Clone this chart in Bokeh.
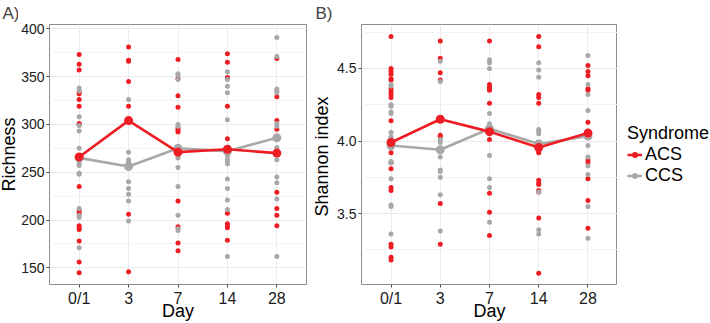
import math
from bokeh.plotting import figure
from bokeh.layouts import row
from bokeh.models import (ColumnDataSource, FactorRange, Range1d, SingleIntervalTicker,
                          PrintfTickFormatter, BasicTickFormatter, Legend, LegendItem)
from bokeh.core.properties import value
from bokeh.embed import file_html
from bokeh.resources import INLINE

days = ["0/1", "3", "7", "14", "28"]

# Per-sample richness, one list per day (ACS / CCS)
rich_acs = [
    [373, 363, 357, 334, 332, 326, 319, 301, 300, 235, 210, 207, 194, 192, 190, 178, 156, 145],
    [381, 367, 366, 345, 319, 206, 146],
    [368, 348, 330, 318, 296, 294, 292, 220, 193, 176, 168],
    [374, 365, 349, 319, 285, 207, 196, 194, 192, 179],
    [369, 329, 304, 295, 229, 212, 205, 194],
]
rich_ccs = [
    [338, 335, 308, 299, 293, 275, 261, 259, 257, 249, 248, 212, 205, 203, 171],
    [326, 271, 263, 261, 259, 240, 233, 227, 220, 199],
    [353, 352, 347, 300, 298, 277, 269, 267, 265, 255, 235, 205, 191, 189],
    [355, 347, 340, 333, 305, 267, 263, 261, 259, 243, 233, 221, 211, 162],
    [391, 371, 337, 335, 333, 301, 298, 276, 273, 263, 245, 239, 222, 162],
]
rich_acs_mean = [266, 304, 271, 274, 270]
rich_ccs_mean = [265, 256, 275, 272, 286]

# Per-sample Shannon index, one list per day (ACS / CCS)
shan_acs = [
    [4.72, 4.50, 4.48, 4.46, 4.43, 4.42, 4.36, 4.34, 4.32, 4.30, 4.14, 3.92, 3.85, 3.81,
     3.68, 3.66, 3.29, 3.27, 3.20, 3.18],
    [4.69, 4.57, 4.47, 4.42, 4.04, 4.03, 3.57, 3.29],
    [4.69, 4.39, 4.37, 4.36, 4.35, 4.26, 4.01, 3.64, 3.51, 3.35],
    [4.72, 4.65, 4.32, 4.30, 4.26, 3.93, 3.92, 3.73, 3.71, 3.70, 3.66, 3.65, 3.47, 3.09],
    [4.52, 4.48, 4.45, 4.36, 4.35, 4.13, 3.87, 3.85, 3.74, 3.59, 3.40],
]
shan_ccs = [
    [4.39, 4.38, 4.25, 4.24, 4.20, 4.19, 4.06, 4.03, 4.02, 3.96, 3.95, 3.86, 3.85, 3.74,
     3.56, 3.55, 3.36],
    [4.55, 4.41, 4.16, 4.01, 3.99, 3.89, 3.80, 3.79, 3.75, 3.63, 3.38],
    [4.56, 4.54, 4.50, 4.19, 4.12, 4.05, 3.90, 3.74, 3.68, 3.44],
    [4.54, 4.49, 4.44, 4.08, 4.07, 4.05, 3.65, 3.39, 3.36],
    [4.59, 4.39, 4.32, 4.21, 3.97, 3.89, 3.83, 3.77, 3.55, 3.33],
]
shan_acs_mean = [3.99, 4.15, 4.065, 3.955, 4.055]
shan_ccs_mean = [3.97, 3.94, 4.085, 3.98, 4.035]

groups = ["ACS", "CCS"]
colors = {"ACS": "#ee1d24", "CCS": "#a8a8a8"}
FONT = "Liberation Sans"
H = 323
TOP, BOTTOM = 24, 39          # plot-area margins shared by every strip in the row


def long_form(per_day):
    xs, ys = [], []
    for d, vals in zip(days, per_day):
        xs += [d] * len(vals)
        ys += vals
    return ColumnDataSource(dict(day=xs, val=ys))


def blank(width):
    """A bare strip whose data space is pixels measured from the canvas bottom-left."""
    s = figure(width=width, height=H, x_range=Range1d(0, width),
               y_range=Range1d(BOTTOM, H - TOP),
               output_backend="svg", toolbar_location=None,
               min_border_left=0, min_border_right=0,
               min_border_top=TOP, min_border_bottom=BOTTOM)
    s.axis.visible = False
    s.grid.visible = False
    s.outline_line_color = None
    s.background_fill_color = "white"
    s.border_fill_color = "white"
    return s


def side_strip(width, tag, tag_x, ylabel, ylabel_x, ylabel_mid):
    s = blank(width)
    s.title.text = tag
    s.title.text_font = FONT
    s.title.text_font_size = "17px"
    s.title.text_font_style = "normal"
    s.title.align = "left"
    s.title.offset = tag_x
    s.title.standoff = 0
    s.title.vertical_align = "top"
    s.text(x=[ylabel_x], y=[H - ylabel_mid], text=[ylabel], angle=math.pi / 2,
           text_font=value(FONT), text_font_size="18px", text_align="center",
           text_baseline="middle", text_color="black")
    return s


def panel(width, border_left, border_right, y_lo, y_hi, interval, fmt,
          acs, ccs, acs_mean, ccs_mean):
    p = figure(width=width, height=H,
               x_range=FactorRange(factors=days, range_padding=0.1,
                                   range_padding_units="absolute"),
               y_range=Range1d(y_lo, y_hi),
               output_backend="svg", toolbar_location=None,
               min_border_left=border_left, min_border_right=border_right,
               min_border_top=TOP, min_border_bottom=BOTTOM)
    p.background_fill_color = "white"
    p.border_fill_color = "white"
    p.outline_line_color = "#8c8c8c"
    p.outline_line_width = 1

    p.yaxis.ticker = SingleIntervalTicker(interval=interval, num_minor_ticks=2)
    p.yaxis.formatter = fmt
    p.xgrid.grid_line_color = "#ebebeb"
    p.ygrid.grid_line_color = "#ebebeb"
    p.ygrid.minor_grid_line_color = "#f3f3f3"

    for ax in (p.xaxis, p.yaxis):
        ax.axis_line_color = None
        ax.major_tick_line_color = "#4d4d4d"
        ax.major_tick_out = 3
        ax.major_tick_in = 0
        ax.minor_tick_line_color = None
        ax.major_label_text_font = FONT
        ax.major_label_text_color = "#1a1a1a"
    p.xaxis.major_label_text_font_size = "16px"
    p.yaxis.major_label_text_font_size = "14px"
    p.xaxis.major_label_standoff = 2
    p.yaxis.major_label_standoff = 1
    p.xaxis.axis_label = "Day"
    p.xaxis.axis_label_text_font = FONT
    p.xaxis.axis_label_text_font_style = "normal"
    p.xaxis.axis_label_text_font_size = "18px"
    p.xaxis.axis_label_text_color = "black"
    p.xaxis.axis_label_standoff = -9

    # individual samples
    for g, data in (("ACS", acs), ("CCS", ccs)):
        p.scatter("day", "val", source=long_form(data), size=5, color=colors[g],
                  line_color=None)

    # group means joined across days
    for g, m in (("CCS", ccs_mean), ("ACS", acs_mean)):
        src = ColumnDataSource(dict(day=days, val=m))
        p.line("day", "val", source=src, line_width=2.6, color=colors[g])
        p.scatter("day", "val", source=src, size=9, color=colors[g], line_color=None)
    return p


lab_a = side_strip(18, "A)", 2, "Richness", 8, 154)
pa = panel(292, 31, 4, 132.6, 404.5, 50, BasicTickFormatter(),
           rich_acs, rich_ccs, rich_acs_mean, rich_ccs_mean)
lab_b = side_strip(23, "B)", 5, "Shannon index", 11.5, 156)
pb = panel(284, 28, 0, 3.012, 4.803, 0.5, PrintfTickFormatter(format="%.1f"),
           shan_acs, shan_ccs, shan_acs_mean, shan_ccs_mean)

# legend strip to the right of panel B
pl = blank(93)
key_items = []
for g in groups:
    # key glyphs only; their points sit outside the visible range
    ln = pl.line(x=[-50, -40], y=[-50, -50], line_width=2.6, color=colors[g])
    pt = pl.scatter(x=[-50], y=[-50], size=9, color=colors[g], line_color=None)
    key_items.append(LegendItem(label=g, renderers=[ln, pt]))

legend = Legend(items=key_items, title="Syndrome", location="center_left")
legend.title_text_font = FONT
legend.title_text_font_size = "18px"
legend.title_text_font_style = "normal"
legend.title_text_color = "black"
legend.title_standoff = 0
legend.label_text_font = FONT
legend.label_text_font_size = "18px"
legend.label_text_color = "black"
legend.label_text_line_height = 0.8
legend.label_standoff = 3
legend.glyph_width = 15
legend.glyph_height = 16
legend.label_height = 16
legend.spacing = 0
legend.padding = 0
legend.margin = 10
legend.border_line_color = None
legend.background_fill_alpha = 0
pl.add_layout(legend, "center")

layout = row(lab_a, pa, lab_b, pb, pl)
open("out.html", "w").write(file_html(layout, INLINE))
